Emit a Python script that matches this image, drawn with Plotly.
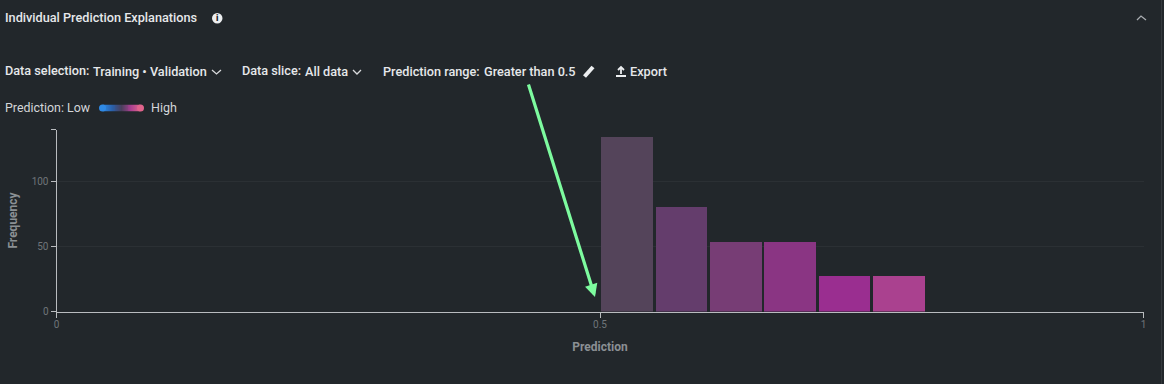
import plotly.graph_objects as go

bin_centers = [0.5245, 0.5745, 0.6245, 0.6745, 0.7245, 0.7745]
frequency = [134.5, 80.5, 53.5, 53.5, 27.5, 27.5]
bar_colors = ["#54445a", "#643d6c", "#773d75", "#8a3583", "#9a2e90", "#aa418f"]
x_tick_vals = [0, 0.5, 1]
x_tick_text = ["0", "0.5", "1"]
y_tick_vals = [0, 50, 100, 140]
y_tick_text = ["0", "50", "100", ""]
gradient_stops = [[0, "#2f8ae6"], [0.25, "#2a5fa8"], [0.5, "#4a3f5c"], [0.75, "#a83f90"], [1, "#e0648c"]]

W, H = 1164, 384
BG = "#22272b"
FONT = "Roboto"
TXT = "#e6e8ea"


def px(x):
    return x / W


def py(y):
    return 1 - y / H


fig = go.Figure()
fig.add_trace(go.Bar(
    x=bin_centers, y=frequency, width=0.0475,
    marker=dict(color=bar_colors, line=dict(width=0)),
    hoverinfo="skip", showlegend=False,
))
fig.add_trace(go.Heatmap(
    z=[[i for i in range(41)]], colorscale=gradient_stops, showscale=False,
    xaxis="x2", yaxis="y2", hoverinfo="skip",
))

annotations = []


def label(x, y, text, size=12.7, weight=500, color=TXT, anchor="left"):
    annotations.append(dict(
        x=px(x), y=py(y), xref="paper", yref="paper", text=text, showarrow=False,
        xanchor=anchor, yanchor="middle", xshift=-2, yshift=1,
        font=dict(family=FONT, size=size, color=color, weight=weight),
    ))


label(5, 18, "Individual Prediction Explanations")
label(5, 71, "Data selection:")
label(93, 72, "Training • Validation")
label(242, 71, "Data slice:")
label(305, 72, "All data")
label(383, 72, "Prediction range:")
label(484, 72, "Greater than 0.5")
label(630, 72, "Export")
label(5, 108, "Prediction: Low", size=12.4, weight=400, color="#d4d6d9")
label(151, 108, "High", size=12.5, weight=400, color="#d4d6d9")
label(219, 19, "i", size=9, weight=900, color=BG, anchor="center")

annotations.append(dict(
    x=px(595), y=py(297), xref="paper", yref="paper",
    ax=528 - 595, ay=83 - 297, axref="pixel", ayref="pixel", text="",
    showarrow=True, arrowhead=2, arrowsize=0.8, arrowwidth=3.2, arrowcolor="#7dfb9f",
))

shapes = [dict(type="circle", xref="paper", yref="paper", x0=px(212), x1=px(222.5), y0=py(23.5), y1=py(13),
               fillcolor="#eceef0", line=dict(width=0))]


def stroke(points, color="#d8dadc", width=1.3):
    path = "M " + " L ".join(f"{px(a):.5f},{py(b):.5f}" for a, b in points)
    shapes.append(dict(type="path", path=path, xref="paper", yref="paper",
                       line=dict(color=color, width=width)))


stroke([(212, 70), (216.5, 74), (221, 70)])
stroke([(353, 70), (357, 74), (361, 70)])
stroke([(1137, 20), (1141, 16), (1146, 20)], color="#a9adb1")
# pencil
stroke([(584.5, 76.5), (593, 67)], color="#eceef0", width=4)
# export icon
stroke([(616, 76), (626, 76)], color="#eceef0", width=2)
stroke([(621, 74), (621, 67)], color="#eceef0", width=1.8)
stroke([(618, 70), (621, 67), (624, 70)], color="#eceef0", width=1.8)
# gradient caps
shapes.append(dict(type="circle", xref="paper", yref="paper", x0=px(99), x1=px(106), y0=py(111.5), y1=py(104.5),
                   fillcolor="#2f8ae6", line=dict(width=0)))
shapes.append(dict(type="circle", xref="paper", yref="paper", x0=px(137), x1=px(144), y0=py(111.5), y1=py(104.5),
                   fillcolor="#e0648c", line=dict(width=0)))
# scrollbar edge
shapes.append(dict(type="line", xref="paper", yref="paper", x0=px(1161.5), x1=px(1161.5), y0=0, y1=1,
                   line=dict(color="#34393d", width=1)))

fig.update_layout(
    width=W, height=H, autosize=False,
    paper_bgcolor=BG, plot_bgcolor=BG,
    margin=dict(l=0, r=0, t=0, b=0),
    showlegend=False, bargap=0,
    annotations=annotations, shapes=shapes,
    font=dict(family=FONT),
    xaxis=dict(
        domain=[px(56.5), px(1143.5)], range=[0, 1], anchor="y", automargin=False,
        tickvals=x_tick_vals, ticktext=x_tick_text, ticklabelstandoff=-2,
        ticks="outside", ticklen=5, tickwidth=1, tickcolor="#b9bcbf",
        showline=True, linecolor="#b9bcbf", linewidth=1, showgrid=False, zeroline=False,
        tickfont=dict(family=FONT, size=10, color="#6f7579"),
        title=dict(text="Prediction", standoff=14,
                   font=dict(family=FONT, size=12, color="#8b9094", weight=700)),
    ),
    yaxis=dict(
        domain=[py(311.5), py(129.5)], range=[0, 140], anchor="x", automargin=False,
        tickvals=y_tick_vals, ticktext=y_tick_text,
        ticks="outside", ticklen=5, tickwidth=1, tickcolor="#b9bcbf",
        showline=True, linecolor="#b9bcbf", linewidth=1,
        showgrid=True, gridcolor="#2b3034", gridwidth=1, zeroline=False,
        tickfont=dict(family=FONT, size=10, color="#6f7579"),
        title=dict(text="Frequency", standoff=11,
                   font=dict(family=FONT, size=12, color="#8b9094", weight=700)),
    ),
    xaxis2=dict(domain=[px(102.5), px(140.5)], visible=False, anchor="y2", fixedrange=True),
    yaxis2=dict(domain=[py(111.5), py(104.5)], visible=False, anchor="x2", fixedrange=True),
)

fig.write_html(
    "out.html",
    config=dict(displayModeBar=False),
    post_script="document.documentElement.style.overflow='hidden';document.body.style.margin='0';",
)
